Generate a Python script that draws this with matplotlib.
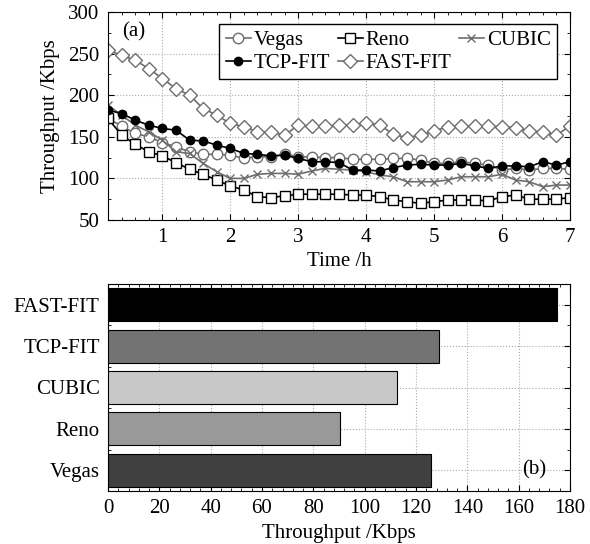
import numpy as np
import matplotlib
matplotlib.use("Agg")
import matplotlib.pyplot as plt
import matplotlib.ticker as mticker

plt.rcParams["font.family"] = ["Liberation Serif", "DejaVu Serif"]
plt.rcParams["font.size"] = 15
plt.rcParams["xtick.direction"] = "in"
plt.rcParams["ytick.direction"] = "in"

# ── Data ───────────────────────────────────────────────────────────────────
hours = [round(0.2 * i, 1) for i in range(1, 36)]

vegas = [172, 163, 154, 150, 143, 138, 132, 129, 129, 128, 124, 126, 126, 129,
         126, 126, 125, 125, 123, 123, 123, 124, 124, 122, 118, 118, 120, 118,
         116, 110, 112, 110, 112, 112, 111]
reno = [172, 152, 141, 132, 127, 119, 111, 105, 98, 91, 86, 78, 77, 79,
        81, 81, 81, 81, 80, 80, 78, 74, 72, 70, 72, 74, 74, 74,
        73, 78, 80, 75, 75, 75, 77]
cubic = [188, 176, 164, 156, 146, 132, 130, 118, 108, 100, 100, 105, 106, 106,
         105, 109, 112, 111, 110, 108, 104, 102, 96, 96, 96, 98, 102, 102,
         102, 105, 98, 96, 90, 92, 92]
tcpfit = [182, 178, 170, 164, 160, 158, 146, 145, 140, 136, 130, 129, 127, 128,
          124, 120, 120, 119, 110, 110, 109, 113, 116, 117, 116, 116, 118, 115,
          112, 115, 115, 114, 120, 116, 120]
fastfit = [254, 248, 242, 232, 220, 208, 200, 184, 176, 166, 162, 156, 156, 152,
           164, 163, 163, 164, 164, 167, 164, 153, 149, 152, 157, 162, 163, 163,
           163, 162, 161, 157, 156, 152, 163]

protocols = ["Vegas", "Reno", "CUBIC", "TCP-FIT", "FAST-FIT"]
avg_throughput = [126, 90.5, 112.5, 129, 175]
bar_colors = ["#404040", "#999999", "#c8c8c8", "#737373", "#000000"]

# ── Figure ─────────────────────────────────────────────────────────────────
fig = plt.figure(figsize=(5.9, 5.44), dpi=100)
ax1 = fig.add_axes([108 / 590, 1 - 220 / 544, 462 / 590, 208 / 544])
ax2 = fig.add_axes([108 / 590, 1 - 491 / 544, 462 / 590, 207 / 544])

gray = "#6e6e6e"
l_vegas, = ax1.plot(hours, vegas, color=gray, lw=1.2, marker="o", ms=7.5,
                    mfc="white", mec=gray, mew=1.0, label="Vegas")
l_reno, = ax1.plot(hours, reno, color="black", lw=1.2, marker="s", ms=6.5,
                   mfc="white", mec="black", mew=1.0, label="Reno")
l_cubic, = ax1.plot(hours, cubic, color=gray, lw=1.2, marker="x", ms=5.5,
                    mew=1.0, label="CUBIC")
l_tcp, = ax1.plot(hours, tcpfit, color="black", lw=1.2, marker="o", ms=6,
                  mfc="black", label="TCP-FIT")
l_fast, = ax1.plot(hours, fastfit, color=gray, lw=1.2, marker="D", ms=7,
                   mfc="white", mec=gray, mew=1.0, label="FAST-FIT")

ax1.set_xlim(0.2, 7)
ax1.set_ylim(50, 300)
ax1.set_xticks([1, 2, 3, 4, 5, 6, 7])
ax1.set_yticks([50, 100, 150, 200, 250, 300])
ax1.xaxis.set_minor_locator(mticker.MultipleLocator(0.2))
ax1.yaxis.set_minor_locator(mticker.MultipleLocator(25))
ax1.tick_params(which="both", top=True, right=True)
ax1.tick_params(which="major", length=4, pad=6)
ax1.tick_params(which="minor", length=2)
ax1.grid(True, which="major", ls=":", color="#aaaaaa", lw=0.8)
ax1.set_xlabel("Time /h", labelpad=3)
ax1.set_ylabel("Throughput /Kbps", labelpad=6)
ax1.text(0.03, 0.95, "(a)", transform=ax1.transAxes, ha="left", va="top")
leg = ax1.legend(handles=[l_vegas, l_tcp, l_reno, l_fast, l_cubic], ncol=3,
                 loc="upper right", bbox_to_anchor=(0.972, 0.94),
                 fancybox=False, edgecolor="black", framealpha=1,
                 handlelength=1.2, handletextpad=0.15, columnspacing=0.35,
                 borderpad=0.3, labelspacing=0.15, borderaxespad=0)
leg.get_frame().set_linewidth(1.0)

ypos = np.arange(len(protocols))
ax2.barh(ypos, avg_throughput, height=0.8, color=bar_colors,
         edgecolor="black", lw=0.8, zorder=3)
ax2.set_yticks(ypos)
ax2.set_yticklabels(protocols)
ax2.set_ylim(-0.5, len(protocols) - 0.5)
ax2.set_xlim(0, 180)
ax2.set_xticks(range(0, 181, 20))
ax2.xaxis.set_minor_locator(mticker.MultipleLocator(4))
ax2.yaxis.set_minor_locator(mticker.MultipleLocator(0.5))
ax2.tick_params(which="both", top=True, right=True)
ax2.tick_params(which="major", length=4, pad=6)
ax2.tick_params(which="minor", length=2)
ax2.grid(True, which="major", ls=":", color="#aaaaaa", lw=0.8)
ax2.set_xlabel("Throughput /Kbps", labelpad=4)
ax2.text(166, 0, "(b)", ha="center", va="center", zorder=4)

fig.savefig("out.png", dpi=100)
